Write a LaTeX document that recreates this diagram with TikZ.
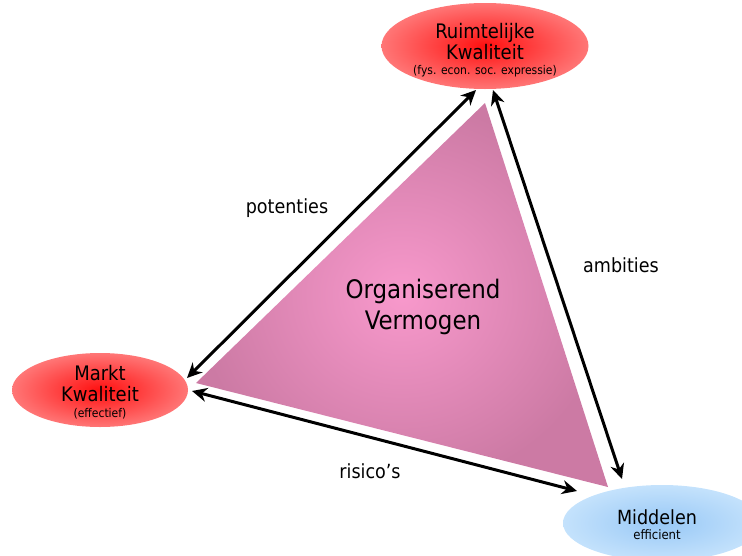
\documentclass[tikz,border=0pt]{standalone}
\usepackage{fontspec}
\setmainfont{DejaVu Sans Condensed}
\usetikzlibrary{shapes.geometric,arrows.meta}
\definecolor{redin}{HTML}{FF1010}
\definecolor{redout}{HTML}{FF7676}
\definecolor{bluein}{HTML}{98C8F6}
\definecolor{blueout}{HTML}{C4E2FC}
\definecolor{triin}{HTML}{F899CC}
\definecolor{triout}{HTML}{CC7AA4}
\tikzset{
  redell/.style={ellipse, inner color=redin, outer color=redout, draw=none},
  blueell/.style={ellipse, inner color=bluein, outer color=blueout, draw=none},
  conn/.style={line width=3pt, {Stealth[length=15pt,width=14pt]}-{Stealth[length=15pt,width=14pt]}},
  lbl/.style={font=\fontsize{19.5}{20}\selectfont, text=black},
  head/.style={align=center, inner sep=0pt, font=\fontsize{20}{21}\selectfont},
  small/.style={inner sep=0pt, font=\fontsize{12}{12}\selectfont},
}
\begin{document}
\begin{tikzpicture}[x=1pt,y=-1pt]
\useasboundingbox (0,0) rectangle (742,555);
\clip (0,0) rectangle (742,555);
% triangle
\coordinate (tT) at (485,103);
\coordinate (tL) at (196,383);
\coordinate (tR) at (608,487);
\shade[inner color=triin, outer color=triout] (tT) -- (tL) -- (tR) -- cycle;
\node[font=\fontsize{25.5}{31}\selectfont, align=center] (org) at (423,307) {Organiserend\\Vermogen};
% ellipses
\node[redell, minimum width=207pt, minimum height=86pt] (rk) at (485,46) {};
\node[head] (rkt) at (485,42) {Ruimtelijke\\Kwaliteit};
\node[small] (rks) at (485,71) {(fys. econ. soc. expressie)};
\node[redell, minimum width=176pt, minimum height=74pt] (mk) at (100,390) {};
\node[head] (mkt) at (100,384) {Markt\\Kwaliteit};
\node[small] (mks) at (100,414) {(effectief)};
\node[blueell, minimum width=198pt, minimum height=76pt] (md) at (662,523) {};
\node[inner sep=0pt, font=\fontsize{19.5}{20}\selectfont] (mdt) at (657,517) {Middelen};
\node[small, font=\fontsize{13}{13}\selectfont] (mds) at (657,535) {efficient};
% connector ends
\coordinate (a1) at (476,90);
\coordinate (a2) at (187,378);
\coordinate (b1) at (493,90);
\coordinate (b2) at (622,479);
\coordinate (c1) at (192,391);
\coordinate (c2) at (577,491);
\draw[conn] (a1) -- (a2);
\draw[conn] (b1) -- (b2);
\draw[conn] (c1) -- (c2);
% labels
\node[lbl] (pot) at (287,208) {potenties};
\node[lbl] (amb) at (621,265) {ambities};
\node[lbl] (ris) at (370,471) {risico’s};
\end{tikzpicture}
\end{document}
